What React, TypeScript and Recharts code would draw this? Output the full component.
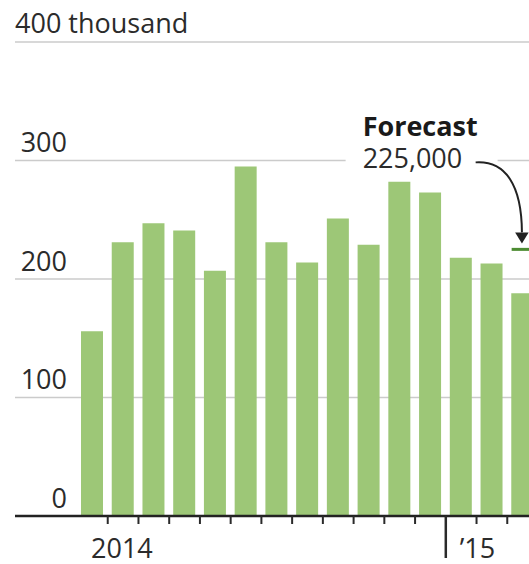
import React from "react";
import { ComposedChart, Bar, Scatter, XAxis, YAxis, CartesianGrid } from "recharts";

const months = [
  "Jan 2014", "Feb 2014", "Mar 2014", "Apr 2014", "May 2014", "Jun 2014",
  "Jul 2014", "Aug 2014", "Sep 2014", "Oct 2014", "Nov 2014", "Dec 2014",
  "Jan 2015", "Feb 2015", "Mar 2015",
];
const jobs = [156, 231, 247, 241, 207, 295, 231, 214, 251, 229, 282, 273, 218, 213, 188];
const forecast: (number | null)[] = [null, null, null, null, null, null, null, null, null, null, null, null, null, null, 225];
const xTickLabels = ["2014", "", "", "", "", "", "", "", "", "", "", "", "\u201915", "", ""];
const yTicks = [0, 100, 200, 300, 400];

const data = months.map((m, i) => ({ month: m, jobs: jobs[i], forecast: forecast[i] }));

const FONT = "'Open Sans', sans-serif";
const TEXT = "#2b2b2b";

const YTick = (props: any) => {
  const { y, payload } = props;
  const v = payload.value;
  if (v === 400) {
    return (
      <text x={15} y={y - 9} fontFamily={FONT} fontSize={27} fill={TEXT} textAnchor="start">
        400 thousand
      </text>
    );
  }
  return (
    <text x={67} y={y - 8.5} fontFamily={FONT} fontSize={27} fill={TEXT} textAnchor="end">
      {v}
    </text>
  );
};

const XTick = (props: any) => {
  const { x, y, payload } = props;
  const idx = payload.index;
  const half = payload.offset != null && payload.offset > 0 ? payload.offset : 15.37;
  const left = x - half;
  const isJan = months[idx].startsWith("Jan");
  const label = xTickLabels[idx];
  return (
    <g>
      {idx > 0 && (
        <line
          x1={left}
          x2={left}
          y1={y}
          y2={y + (isJan ? 42 : 8)}
          stroke="#2a2a2a"
          strokeWidth={isJan ? 2.5 : 2}
        />
      )}
      {label && (
        <text x={left + 14} y={y + 41.5} fontFamily={FONT} fontSize={27} fill={TEXT} textAnchor="start">
          {label}
        </text>
      )}
    </g>
  );
};

const ForecastMarker = (props: any) => {
  const { cx, cy, payload } = props;
  if (!payload || payload.forecast == null || cx == null || cy == null || isNaN(cx) || isNaN(cy)) {
    return <g />;
  }
  const label = (payload.forecast * 1000).toLocaleString("en-US");
  return (
    <g>
      <rect x={cx - 177} y={cy - 139} width={152} height={64} fill="#ffffff" />
      <text x={cx - 160} y={cy - 113} fontFamily={FONT} fontSize={27} fontWeight="bold" fill="#1a1a1a">
        Forecast
      </text>
      <text x={cx - 160} y={cy - 81} fontFamily={FONT} fontSize={27} fill={TEXT}>
        {label}
      </text>
      <path
        d={`M${cx - 47},${cy - 87} C${cx - 17},${cy - 89} ${cx - 1},${cy - 64} ${cx - 0.7},${cy - 17}`}
        fill="none"
        stroke="#222"
        strokeWidth={2}
      />
      <path d={`M${cx - 7.5},${cy - 17} L${cx + 6},${cy - 17} L${cx - 0.7},${cy - 6} Z`} fill="#222" />
      <line x1={cx - 11} x2={cx + 11} y1={cy} y2={cy} stroke="#4d8c33" strokeWidth={3} />
    </g>
  );
};

export default function App() {
  return (
    <div
      style={{
        position: "fixed",
        left: 0,
        top: 0,
        width: 529,
        height: 564,
        overflow: "hidden",
        background: "#ffffff",
      }}
    >
      <ComposedChart width={538} height={564} data={data} margin={{ top: 42, right: 0, bottom: 0, left: 14 }}>
        <CartesianGrid vertical={false} stroke="#cbcbcb" strokeWidth={1.5} />
        <YAxis
          domain={[0, 400]}
          ticks={yTicks}
          width={1}
          axisLine={false}
          tickLine={false}
          tick={YTick}
          interval={0}
        />
        <Bar dataKey="jobs" fill="#9dc777" barSize={22} isAnimationActive={false} />
        <Scatter dataKey="forecast" shape={ForecastMarker} isAnimationActive={false} />
        <XAxis
          dataKey="month"
          padding={{ left: 62, right: 0 }}
          tickSize={0}
          tickMargin={0}
          axisLine={{ stroke: "#222", strokeWidth: 2.5 }}
          tickLine={false}
          tick={XTick}
          interval={0}
          height={48}
        />
      </ComposedChart>
    </div>
  );
}
